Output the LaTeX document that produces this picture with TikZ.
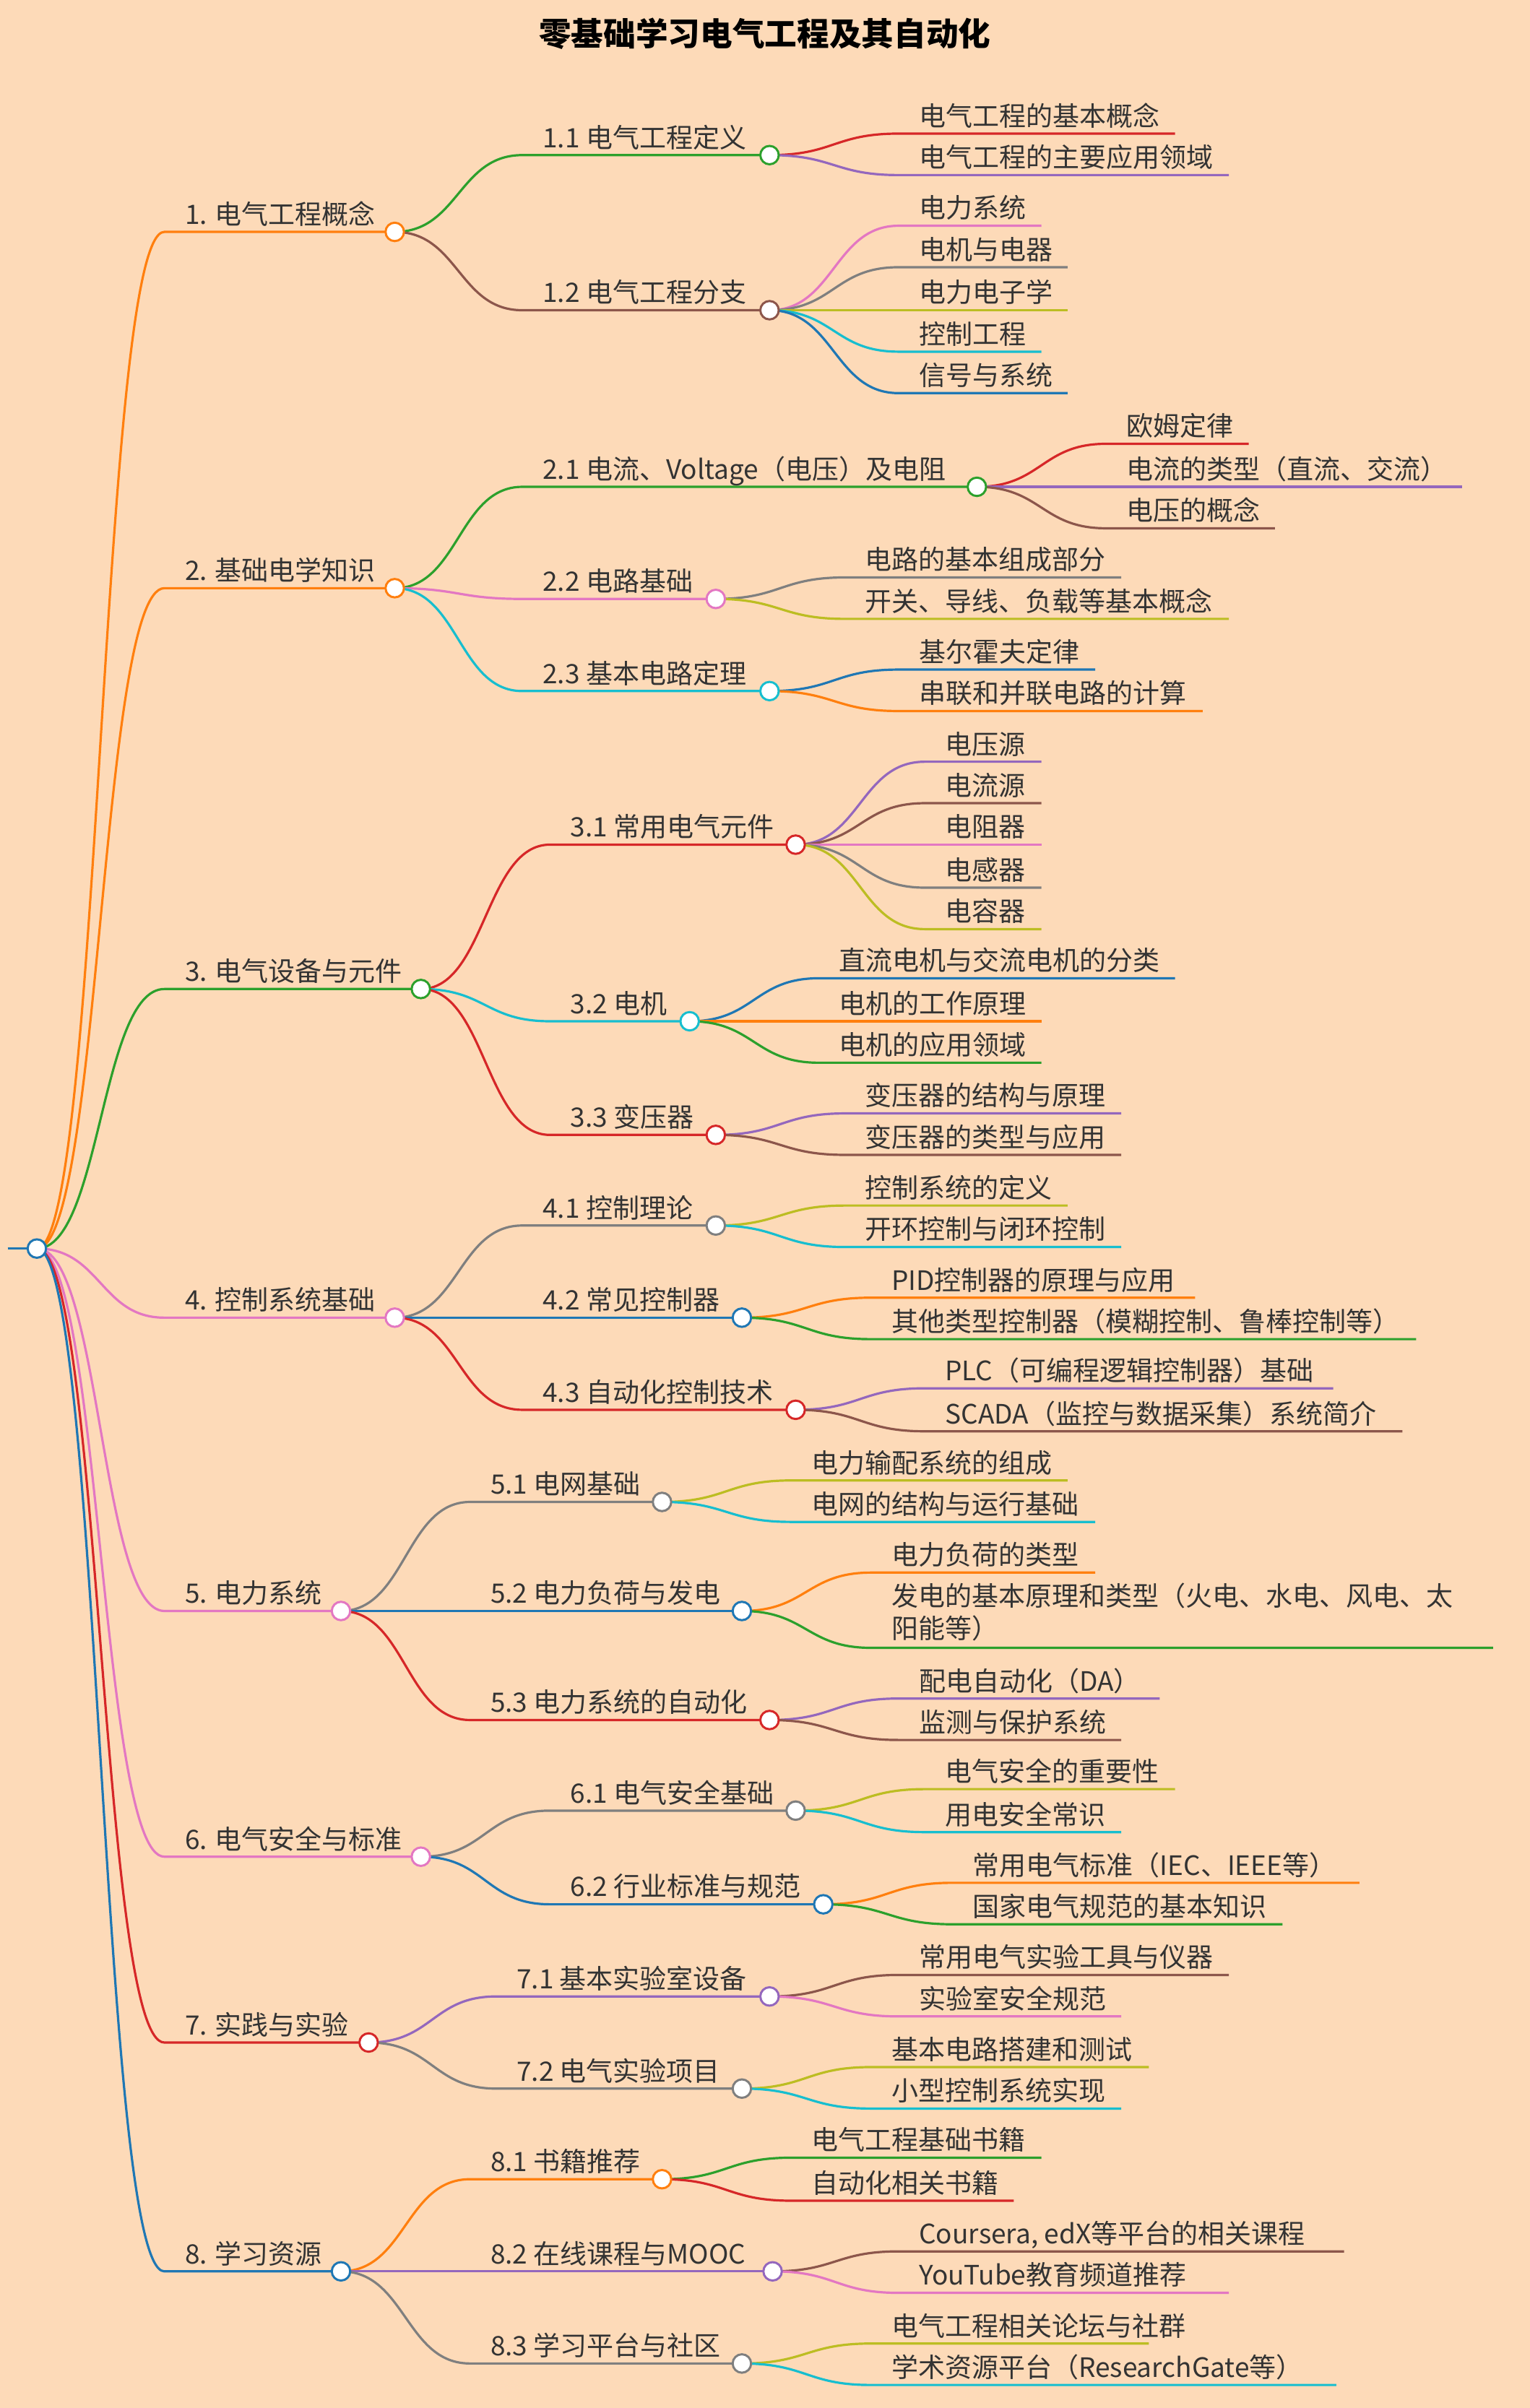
\documentclass[tikz,border=0pt]{standalone}
\usepackage{fontspec}
\setmainfont{Noto Sans CJK SC}
\usetikzlibrary{calc}
\definecolor{bg}{HTML}{FDDAB8}
\definecolor{cO}{HTML}{FF7F0E}\definecolor{cG}{HTML}{2CA02C}\definecolor{cR}{HTML}{D62728}
\definecolor{cP}{HTML}{9467BD}\definecolor{cB}{HTML}{8C564B}\definecolor{cK}{HTML}{E377C2}
\definecolor{cY}{HTML}{7F7F7F}\definecolor{cV}{HTML}{BCBD22}\definecolor{cC}{HTML}{17BECF}
\definecolor{cL}{HTML}{1F77B4}\definecolor{tx}{HTML}{333333}
\pgfdeclarelayer{fg}\pgfsetlayers{main,fg}
\tikzset{mmline/.style={line width=0.75pt},
 mmtext/.style={text=tx,font=\fontsize{8.7}{10.5}\selectfont,inner sep=0pt}}
\newcommand\mm[7]{%
 \coordinate (#1s) at ({#3-13},#4);
 \coordinate (#1) at (#5,#4);
 \draw[mmline,#6] let \p1=(#2),\p2=(#1s) in (\p1) .. controls ({0.5*\x1+0.5*\x2},\y1) and ({0.5*\x1+0.5*\x2},\y2) .. (\p2) -- (#1);
 \node[mmtext,anchor=base west] (#1t) at (#3,{#4-5}) {#7};}
\newcommand\mmc[7]{\mm{#1}{#2}{#3}{#4}{#5}{#6}{#7}%
 \begin{pgfonlayer}{fg}\draw[#6,fill=white,line width=0.7pt] (#1) circle[radius=3pt];\end{pgfonlayer}}
\begin{document}
\begin{tikzpicture}[x=0.5pt,y=-0.5pt]
\fill[bg] (0,0) rectangle (996,1568);
\useasboundingbox (0,0) rectangle (996,1568);
\node[text=black,font=\bfseries\fontsize{10.5}{12}\selectfont] (title) at (498,22) {零基础学习电气工程及其自动化};
\coordinate (r0) at (5,813); \coordinate (r) at (24,813);
\draw[mmline,cL] (r0) -- (r);
\begin{pgfonlayer}{fg}\draw[cL,fill=white,line width=0.7pt] (r) circle[radius=3pt];\end{pgfonlayer}
% level 1
\mmc{a}{r}{120}{151}{257}{cO}{1. 电气工程概念}
\mmc{b}{r}{120}{383}{257}{cO}{2. 基础电学知识}
\mmc{c}{r}{120}{644}{274}{cG}{3. 电气设备与元件}
\mmc{d}{r}{120}{858}{257}{cK}{4. 控制系统基础}
\mmc{e}{r}{120}{1049}{222}{cK}{5. 电力系统}
\mmc{f}{r}{120}{1209}{274}{cK}{6. 电气安全与标准}
\mmc{g}{r}{120}{1330}{240}{cR}{7. 实践与实验}
\mmc{h}{r}{120}{1479}{222}{cL}{8. 学习资源}
% level 2
\mmc{a1}{a}{353}{101}{501}{cG}{1.1 电气工程定义}
\mmc{a2}{a}{353}{202}{501}{cB}{1.2 电气工程分支}
\mmc{b1}{b}{353}{317}{636}{cG}{2.1 电流、Voltage（电压）及电阻}
\mmc{b2}{b}{353}{390}{466}{cK}{2.2 电路基础}
\mmc{b3}{b}{353}{450}{501}{cC}{2.3 基本电路定理}
\mmc{c1}{c}{371}{550}{518}{cR}{3.1 常用电气元件}
\mmc{c2}{c}{371}{665}{449}{cC}{3.2 电机}
\mmc{c3}{c}{371}{739}{466}{cR}{3.3 变压器}
\mmc{d1}{d}{353}{798}{466}{cY}{4.1 控制理论}
\mmc{d2}{d}{353}{858}{483}{cL}{4.2 常见控制器}
\mmc{d3}{d}{353}{918}{518}{cR}{4.3 自动化控制技术}
\mmc{e1}{e}{319}{978}{431}{cY}{5.1 电网基础}
\mmc{e2}{e}{319}{1049}{483}{cL}{5.2 电力负荷与发电}
\mmc{e3}{e}{319}{1120}{501}{cR}{5.3 电力系统的自动化}
\mmc{f1}{f}{371}{1179}{518}{cY}{6.1 电气安全基础}
\mmc{f2}{f}{371}{1240}{536}{cL}{6.2 行业标准与规范}
\mmc{g1}{g}{336}{1300}{501}{cP}{7.1 基本实验室设备}
\mmc{g2}{g}{336}{1360}{483}{cY}{7.2 电气实验项目}
\mmc{h1}{h}{319}{1419}{431}{cO}{8.1 书籍推荐}
\mmc{h2}{h}{319}{1479}{503}{cP}{8.2 在线课程与MOOC}
\mmc{h3}{h}{319}{1539}{483}{cY}{8.3 学习平台与社区}
% leaves
\mm{a11}{a1}{598}{87}{765}{cR}{电气工程的基本概念}
\mm{a12}{a1}{598}{114}{800}{cP}{电气工程的主要应用领域}
\mm{a21}{a2}{598}{147}{678}{cK}{电力系统}
\mm{a22}{a2}{598}{174}{695}{cY}{电机与电器}
\mm{a23}{a2}{598}{202}{695}{cV}{电力电子学}
\mm{a24}{a2}{598}{229}{678}{cC}{控制工程}
\mm{a25}{a2}{598}{256}{695}{cL}{信号与系统}
\mm{b11}{b1}{733}{289}{813}{cR}{欧姆定律}
\mm{b12}{b1}{733}{317}{952}{cP}{电流的类型（直流、交流）}
\mm{b13}{b1}{733}{344}{830}{cB}{电压的概念}
\mm{b21}{b2}{563}{376}{730}{cY}{电路的基本组成部分}
\mm{b22}{b2}{563}{403}{800}{cV}{开关、导线、负载等基本概念}
\mm{b31}{b3}{598}{436}{713}{cL}{基尔霍夫定律}
\mm{b32}{b3}{598}{463}{783}{cO}{串联和并联电路的计算}
\mm{c11}{c1}{615}{496}{678}{cP}{电压源}
\mm{c12}{c1}{615}{523}{678}{cB}{电流源}
\mm{c13}{c1}{615}{550}{678}{cK}{电阻器}
\mm{c14}{c1}{615}{578}{678}{cY}{电感器}
\mm{c15}{c1}{615}{605}{678}{cV}{电容器}
\mm{c21}{c2}{546}{637}{765}{cL}{直流电机与交流电机的分类}
\mm{c22}{c2}{546}{665}{678}{cO}{电机的工作原理}
\mm{c23}{c2}{546}{692}{678}{cG}{电机的应用领域}
\mm{c31}{c3}{563}{725}{730}{cP}{变压器的结构与原理}
\mm{c32}{c3}{563}{752}{730}{cB}{变压器的类型与应用}
\mm{d11}{d1}{563}{785}{695}{cV}{控制系统的定义}
\mm{d12}{d1}{563}{812}{730}{cC}{开环控制与闭环控制}
\mm{d21}{d2}{580}{845}{778}{cO}{PID控制器的原理与应用}
\mm{d22}{d2}{580}{872}{922}{cG}{其他类型控制器（模糊控制、鲁棒控制等）}
\mm{d31}{d3}{615}{904}{868}{cP}{PLC（可编程逻辑控制器）基础}
\mm{d32}{d3}{615}{932}{913}{cB}{SCADA（监控与数据采集）系统简介}
\mm{e11}{e1}{528}{964}{695}{cV}{电力输配系统的组成}
\mm{e12}{e1}{528}{991}{713}{cC}{电网的结构与运行基础}
\mm{e21}{e2}{580}{1024}{713}{cO}{电力负荷的类型}
\coordinate (e22s) at (567,1073); \coordinate (e22) at (972,1073);
\draw[mmline,cG] let \p1=(e2),\p2=(e22s) in (\p1) .. controls ({0.5*\x1+0.5*\x2},\y1) and ({0.5*\x1+0.5*\x2},\y2) .. (\p2) -- (e22);
\node[mmtext,anchor=south west,align=left] (e22t) at (580,1069) {发电的基本原理和类型（火电、水电、风电、太\\阳能等）};
\mm{e31}{e3}{598}{1106}{755}{cP}{配电自动化（DA）}
\mm{e32}{e3}{598}{1133}{730}{cB}{监测与保护系统}
\mm{f11}{f1}{615}{1165}{765}{cV}{电气安全的重要性}
\mm{f12}{f1}{615}{1193}{730}{cC}{用电安全常识}
\mm{f21}{f2}{633}{1226}{885}{cO}{常用电气标准（IEC、IEEE等）}
\mm{f22}{f2}{633}{1253}{835}{cG}{国家电气规范的基本知识}
\mm{g11}{g1}{598}{1286}{800}{cB}{常用电气实验工具与仪器}
\mm{g12}{g1}{598}{1313}{730}{cK}{实验室安全规范}
\mm{g21}{g2}{580}{1346}{748}{cV}{基本电路搭建和测试}
\mm{g22}{g2}{580}{1373}{730}{cC}{小型控制系统实现}
\mm{h11}{h1}{528}{1405}{678}{cG}{电气工程基础书籍}
\mm{h12}{h1}{528}{1433}{660}{cR}{自动化相关书籍}
\mm{h21}{h2}{598}{1466}{875}{cB}{Coursera, edX等平台的相关课程}
\mm{h22}{h2}{598}{1493}{800}{cK}{YouTube教育频道推荐}
\mm{h31}{h3}{580}{1526}{748}{cV}{电气工程相关论坛与社群}
\mm{h32}{h3}{580}{1553}{870}{cC}{学术资源平台（ResearchGate等）}
\end{tikzpicture}
\end{document}
